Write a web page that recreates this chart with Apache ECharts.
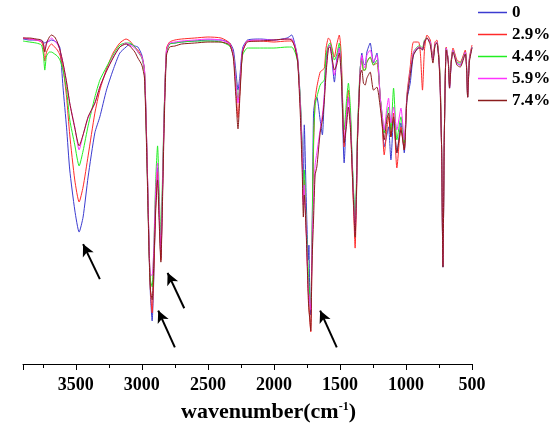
<!DOCTYPE html>
<html>
<head>
<meta charset="utf-8">
<script src="https://cdn.jsdelivr.net/npm/echarts@6/dist/echarts.min.js"></script>
<style>
  html, body { margin: 0; padding: 0; background: #fff; }
  #chart { width: 550px; height: 430px; }
</style>
</head>
<body>
<div id="chart"></div>
<script>
// wavenumber (cm-1)
var wavenumber = [3900,3850,3800,3760,3745,3735,3722,3700,3685,3660,
  3640,3620,3597,3570,3546,3508,3475,3445,3407,3356,
  3318,3268,3218,3167,3120,3091,3053,3030,3000,2980,
  2962,2945,2935,2922,2910,2895,2881,2868,2856,2845,
  2830,2813,2790,2750,2700,2600,2500,2400,2335,2307,
  2289,2272,2257,2237,2200,2100,2000,1900,1865,1840,
  1820,1800,1785,1777,1770,1755,1740,1735,1728,1721,
  1712,1700,1688,1675,1650,1633,1618,1605,1587,1575,
  1560,1542,1525,1505,1490,1468,1450,1436,1420,1410,
  1395,1385,1375,1367,1347,1334,1322,1309,1296,1271,
  1246,1220,1195,1180,1165,1145,1132,1114,1094,1069,
  1038,1013,993,968,943,905,890,875,860,841,
  816,796,780,766,750,741,730,720,710,695,
  680,670,657,644,614,589,551,540,533,520,500];

// transmittance (%) for each content
var t0 = [97.3,97.0,97.0,96.7,96.4,96.1,96.4,96.7,97.0,96.7,
  96.1,94.6,82.9,70.7,58.1,46.1,39.5,44.0,56.0,69.2,
  74.0,82.0,88.0,93.1,94.9,95.8,95.2,94.9,92.5,88.0,
  64.1,34.1,20.7,12.9,25.1,49.1,58.7,44.6,31.7,49.1,
  76.0,94.0,95.8,96.1,96.4,96.7,97.0,97.0,96.1,94.0,
  88.0,82.0,86.5,94.6,97.0,97.3,97.0,97.6,98.5,95.5,
  91.6,79.0,64.1,52.1,71.6,49.1,31.1,35.6,19.2,14.7,
  34.1,75.1,79.0,79.9,73.1,68.6,80.5,91.0,94.9,95.5,
  91.0,84.4,91.0,94.9,88.0,60.2,74.6,79.9,73.1,63.2,
  49.1,41.0,52.1,68.0,88.0,93.1,90.1,89.5,93.4,96.1,
  90.1,93.1,79.9,73.1,65.0,68.6,71.0,61.1,73.1,63.2,
  72.2,63.2,79.0,84.1,92.5,94.6,94.6,94.0,96.4,97.6,
  96.4,91.0,95.5,96.4,91.0,83.5,64.1,29.0,67.1,94.6,
  91.0,82.6,90.4,94.0,90.1,89.5,93.4,88.0,79.9,91.0,94.9];

var t29 = [97.6,97.3,97.0,96.4,94.6,90.7,93.4,95.2,95.8,94.9,
  94.0,92.5,88.6,79.9,68.6,55.1,48.5,53.0,62.3,75.1,
  82.0,88.3,93.1,96.1,97.3,96.7,94.9,94.0,91.9,88.0,
  64.1,34.1,22.2,15.3,26.6,47.6,57.5,44.6,31.1,49.1,
  76.0,94.6,96.4,97.0,97.3,97.6,97.9,97.6,96.1,92.5,
  83.5,73.7,82.0,93.4,96.7,96.7,96.4,96.7,96.7,94.9,
  91.0,77.5,61.1,49.1,55.1,40.1,22.2,17.7,13.2,9.6,
  31.1,64.1,79.0,82.9,87.4,88.0,88.6,94.6,97.6,97.0,
  94.6,91.9,95.5,98.5,92.5,65.0,76.0,82.0,73.1,61.1,
  44.6,34.7,49.1,67.1,87.4,91.6,88.0,88.0,90.4,91.9,
  89.5,90.1,79.9,71.6,62.6,70.1,74.0,68.0,75.1,58.7,
  71.0,64.1,80.5,88.9,96.4,96.4,92.5,82.0,94.0,98.5,
  97.0,91.6,96.4,97.0,91.6,85.0,64.1,29.6,67.1,94.9,
  91.0,83.5,91.0,94.6,91.0,90.4,94.0,88.0,79.9,91.6,95.5];

var t44 = [96.7,96.4,96.1,95.5,92.5,88.0,92.2,93.4,93.4,92.8,
  92.2,91.0,88.0,82.0,73.1,65.6,59.3,63.8,71.3,79.9,
  85.0,88.9,92.5,95.5,96.1,96.1,94.9,93.4,91.6,87.4,
  62.6,34.1,25.1,23.1,34.1,55.1,65.3,50.6,38.6,53.6,
  77.5,93.4,95.8,96.1,96.4,96.7,96.7,96.4,95.2,92.5,
  85.6,79.0,84.4,92.5,94.6,94.6,94.6,94.9,94.9,93.4,
  90.4,79.0,62.6,52.1,58.1,41.6,28.1,23.7,20.7,17.7,
  35.6,67.1,77.5,79.9,83.5,84.4,85.0,92.5,95.5,96.1,
  94.0,91.0,92.5,96.1,89.5,70.1,79.0,84.1,76.0,64.1,
  50.6,43.1,55.1,70.1,88.6,91.0,88.0,88.0,90.4,91.9,
  89.5,91.0,79.9,74.6,69.2,74.6,76.9,70.1,82.6,67.1,
  74.0,66.2,79.9,87.4,93.4,95.2,95.2,94.6,97.0,97.6,
  96.4,91.0,95.5,96.4,91.6,85.0,64.1,29.6,67.1,94.6,
  91.0,83.5,91.0,94.0,90.4,90.1,93.4,88.0,79.9,91.0,94.9];

var t59 = [97.6,97.3,97.0,96.7,95.8,94.0,95.8,97.0,97.6,96.7,
  95.8,94.0,90.1,84.1,78.1,71.0,64.1,68.6,73.7,78.1,
  82.9,87.7,91.9,94.9,96.1,95.5,94.6,93.4,91.9,88.0,
  64.1,35.6,26.6,26.6,34.1,52.1,60.2,46.1,34.1,50.6,
  76.6,94.0,96.1,96.4,96.7,97.0,97.3,97.0,95.8,92.5,
  85.0,78.1,84.4,94.0,96.7,97.0,97.0,97.3,97.3,95.2,
  91.0,77.5,61.1,47.6,53.6,40.1,22.2,20.7,19.2,16.2,
  34.1,49.1,59.6,63.2,70.1,74.6,80.5,88.0,94.9,95.5,
  91.6,86.5,90.4,94.6,88.0,67.1,74.6,79.9,71.6,62.6,
  47.6,39.2,52.1,68.0,88.0,92.5,89.5,88.6,92.5,94.0,
  90.4,92.5,79.9,74.6,70.1,76.6,79.6,72.2,76.9,70.1,
  76.6,67.1,79.9,87.4,93.4,94.9,94.9,94.3,96.7,97.6,
  96.4,91.0,95.8,96.4,91.0,83.5,64.1,29.6,67.1,94.6,
  91.0,82.6,90.4,94.0,90.1,89.5,93.4,88.0,79.9,91.0,94.9];

var t74 = [97.6,97.6,97.3,97.0,95.8,93.4,96.1,97.9,98.5,97.9,
  96.4,94.0,90.1,84.4,78.1,70.7,65.3,68.6,74.0,78.1,
  82.9,87.7,91.6,94.9,95.8,95.2,93.4,91.6,89.5,85.6,
  61.1,32.6,22.2,19.2,29.6,46.1,55.1,41.6,30.5,46.1,
  73.1,92.5,94.9,95.2,95.8,96.1,96.4,96.4,95.5,91.6,
  80.5,70.4,80.5,93.4,96.4,96.7,97.0,97.3,97.0,94.6,
  90.4,74.6,56.6,44.0,50.6,38.6,19.8,16.2,13.2,9.9,
  29.6,43.1,56.6,59.0,69.2,73.1,79.0,87.1,94.6,94.9,
  91.6,88.0,89.5,93.1,86.5,66.2,71.6,76.9,70.1,61.1,
  46.1,38.0,50.6,67.1,86.5,88.0,84.1,83.5,85.6,87.4,
  82.0,82.9,76.9,71.6,67.1,73.1,75.1,68.0,74.0,63.2,
  70.1,64.1,79.0,86.5,92.5,94.6,94.6,94.0,96.4,97.6,
  95.5,90.1,95.5,96.1,90.4,82.0,64.1,29.0,67.1,94.0,
  90.4,82.6,90.4,93.4,89.5,88.9,92.8,87.4,79.9,90.4,94.6];

var names = ['0', '2.9%', '4.4%', '5.9%', '7.4%'];
var colors = ['#3b3bd0', '#ff2a2a', '#22ee22', '#ff33ff', '#8b1c1c'];

// arrows: [tail wavenumber, tail T, tip wavenumber, tip T]
var arrows = [
  [3318, 25.4, 3445, 35.9],
  [2679, 16.7, 2805, 27.3],
  [2750, 5.0, 2876, 16.0],
  [1524, 5.0, 1650, 16.0]
];

var font = 'Liberation Serif, Times New Roman, serif';

function pairs(ys) {
  return wavenumber.map(function (w, i) { return [w, ys[i]]; });
}

var all = [t0, t29, t44, t59, t74];
var series = all.map(function (ys, k) {
  var s = {
    name: names[k],
    type: 'line',
    data: pairs(ys),
    symbol: 'none',
    smooth: 0.2,
    lineStyle: { width: 1, color: colors[k] },
    itemStyle: { color: colors[k] }
  };
  if (k === all.length - 1) {
    s.markLine = {
      silent: true,
      symbol: ['none', 'arrow'],
      symbolSize: [9, 12],
      label: { show: false },
      lineStyle: { color: '#000', width: 2, type: 'solid' },
      data: arrows.map(function (a) {
        return [{ coord: [a[0], a[1]] }, { coord: [a[2], a[3]] }];
      })
    };
  }
  return s;
});

var chart = echarts.init(document.getElementById('chart'));
chart.setOption({
  animation: false,
  backgroundColor: '#fff',
  title: {
    text: '{a|wavenumber(cm}{b|-1}{a|)}',
    left: 181,
    top: 401,
    padding: 0,
    textStyle: {
      rich: {
        a: { fontFamily: font, fontWeight: 'bold', fontSize: 22, color: '#000' },
        b: { fontFamily: font, fontWeight: 'bold', fontSize: 12, color: '#000', verticalAlign: 'top', padding: [0, 0, 10, 0] }
      }
    }
  },
  legend: {
    orient: 'vertical',
    left: 478,
    top: 4,
    padding: 0,
    icon: 'rect',
    itemWidth: 29,
    itemHeight: 1.5,
    itemGap: 5,
    textStyle: { fontFamily: font, fontWeight: 'bold', fontSize: 17, lineHeight: 17, color: '#000' },
    data: names
  },
  grid: { left: 23, right: 78, top: 30, bottom: 66 },
  xAxis: {
    type: 'value',
    inverse: true,
    min: 500,
    max: 3900,
    interval: 500,
    axisLine: { onZero: false, lineStyle: { color: '#000', width: 1 } },
    axisTick: { length: 6, lineStyle: { color: '#000' } },
    minorTick: { show: true, splitNumber: 2, length: 4, lineStyle: { color: '#000' } },
    splitLine: { show: false },
    axisLabel: {
      showMaxLabel: false,
      margin: 12,
      fontFamily: font,
      fontWeight: 'bold',
      fontSize: 18,
      color: '#000',
      formatter: function (v) { return String(v); }
    }
  },
  yAxis: {
    type: 'value',
    min: 0,
    max: 100,
    show: false,
    splitLine: { show: false }
  },
  series: series
});
</script>
</body>
</html>
